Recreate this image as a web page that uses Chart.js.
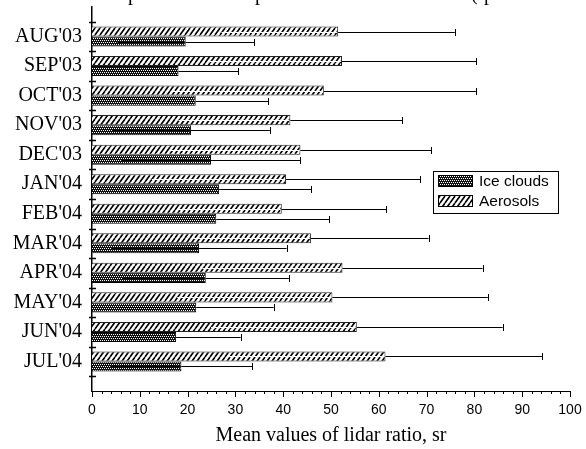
<!DOCTYPE html>
<html>
<head>
<meta charset="utf-8">
<script src="https://cdn.jsdelivr.net/npm/chart.js@4/dist/chart.umd.min.js"></script>
<style>
  html, body { margin: 0; padding: 0; background: #fff; }
  #chart { display: block; }
</style>
</head>
<body>
<canvas id="chart" width="586" height="449"></canvas>
<script>
// monthly mean lidar ratio (sr) and standard deviation
const months = ["AUG'03", "SEP'03", "OCT'03", "NOV'03", "DEC'03", "JAN'04",
                "FEB'04", "MAR'04", "APR'04", "MAY'04", "JUN'04", "JUL'04"];
const aerosolMean = [51.5, 52.3, 48.5, 41.5, 43.6, 40.6, 39.7, 45.8, 52.4, 50.3, 55.4, 61.4];
const aerosolErr  = [24.4, 28.1, 31.8, 23.4, 27.4, 28.1, 21.9, 24.6, 29.3, 32.5, 30.5, 32.7];
const iceMean     = [19.6, 18.1, 21.7, 20.7, 24.9, 26.6, 26.0, 22.4, 23.8, 21.8, 17.6, 18.7];
const iceErr      = [14.3, 12.5, 15.2, 16.5, 18.7, 19.3, 23.6, 18.3, 17.4, 16.2, 13.5, 14.8];
const seriesLabels = ['Ice clouds', 'Aerosols'];
const xTitle = 'Mean values of lidar ratio, sr';

const serif = "'Liberation Serif', 'Times New Roman', serif";
const sans = "'Liberation Sans', Arial, sans-serif";

// diagonal hatch for aerosols
const makeHatch = () => {
  const w = 5, h = 7;
  const c = document.createElement('canvas');
  c.width = w; c.height = h;
  const g = c.getContext('2d');
  g.fillStyle = '#fff';
  g.fillRect(0, 0, w, h);
  g.strokeStyle = '#000';
  g.lineWidth = 1.6;
  g.beginPath();
  for (const dx of [-w, 0, w]) {
    g.moveTo(dx, h);
    g.lineTo(dx + w, 0);
  }
  g.stroke();
  return g.createPattern(c, 'repeat');
};

// dark dotted fill for ice clouds
const makeDots = () => {
  const c = document.createElement('canvas');
  c.width = 4; c.height = 4;
  const g = c.getContext('2d');
  g.fillStyle = '#111';
  g.fillRect(0, 0, 4, 4);
  g.fillStyle = '#fff';
  [[0, 0], [2, 0], [1, 2], [3, 2]].forEach(p => g.fillRect(p[0], p[1], 1, 1));
  return g.createPattern(c, 'repeat');
};

const hatch = makeHatch();
const dots = makeDots();

const errorBars = {
  id: 'errorBars',
  afterDatasetsDraw(chart) {
    const ctx = chart.ctx;
    const xs = chart.scales.x;
    chart.data.datasets.forEach((ds, di) => {
      const meta = chart.getDatasetMeta(di);
      meta.data.forEach((bar, i) => {
        const v = ds.data[i].x;
        const e = ds.errors[i];
        const hi = xs.getPixelForValue(v + e);
        const lo = xs.getPixelForValue(v - e);
        const y = Math.round(bar.y) + 0.5;
        ctx.save();
        // inner half, hidden inside the bar
        ctx.strokeStyle = ds.innerErrColor;
        ctx.lineWidth = 1;
        ctx.beginPath();
        ctx.moveTo(lo, y);
        ctx.lineTo(bar.x - 1, y);
        ctx.stroke();
        ctx.strokeStyle = '#000';
        ctx.beginPath();
        ctx.moveTo(bar.x, y);
        ctx.lineTo(hi, y);
        ctx.moveTo(Math.round(hi) + 0.5, y - 3.5);
        ctx.lineTo(Math.round(hi) + 0.5, y + 3.5);
        ctx.stroke();
        ctx.restore();
      });
    });
  }
};

const decorations = {
  id: 'decorations',
  afterDraw(chart) {
    const ctx = chart.ctx;
    const xs = chart.scales.x;
    const ys = chart.scales.y;
    const area = chart.chartArea;
    ctx.save();
    ctx.strokeStyle = '#000';
    // x axis ticks, major every 10, minor every 2
    ctx.lineWidth = 1;
    ctx.beginPath();
    for (let v = 0; v <= 100; v += 2) {
      const px = Math.round(xs.getPixelForValue(v)) + 0.5;
      ctx.moveTo(px, area.bottom);
      ctx.lineTo(px, area.bottom + (v % 10 === 0 ? 6 : 3));
    }
    ctx.stroke();
    // y axis ticks crossing the axis at the month boundaries
    ctx.lineWidth = 1.3;
    ctx.beginPath();
    for (let b = 0; b <= months.length; b++) {
      const py = Math.round(ys.getPixelForValue(b)) + 0.5;
      ctx.moveTo(area.left - 3, py);
      ctx.lineTo(area.left + 4, py);
    }
    ctx.stroke();

    // legend box
    const lx = 433, ly = 171, lw = 125, lh = 42;
    ctx.fillStyle = '#fff';
    ctx.fillRect(lx, ly, lw, lh);
    ctx.lineWidth = 1;
    ctx.strokeRect(lx + 0.5, ly + 0.5, lw, lh);
    const items = [
      { fill: dots, label: seriesLabels[0] },
      { fill: hatch, label: seriesLabels[1] }
    ];
    ctx.font = '15.5px ' + sans;
    ctx.textBaseline = 'middle';
    items.forEach((it, k) => {
      const sy = ly + 4 + k * 20;
      ctx.fillStyle = it.fill;
      ctx.fillRect(lx + 5, sy, 35, 12);
      ctx.strokeRect(lx + 5.5, sy + 0.5, 34, 11);
      ctx.fillStyle = '#000';
      ctx.fillText(it.label, lx + 46, sy + 6.5);
    });

    // fragments of a heading that is cut off at the top edge
    ctx.font = '20px ' + serif;
    ctx.textBaseline = 'alphabetic';
    ctx.fillStyle = '#000';
    ctx.fillText('p', 128, 0);
    ctx.fillText('p', 255, 0);
    ctx.fillText('(', 471, 0);
    ctx.fillText('p', 484, 0);
    ctx.restore();
  }
};

new Chart(document.getElementById('chart'), {
  type: 'bar',
  data: {
    datasets: [
      {
        label: seriesLabels[1],
        data: aerosolMean.map((v, i) => ({ x: v, y: i + 0.5 })),
        errors: aerosolErr,
        innerErrColor: '#fff',
        backgroundColor: hatch,
        borderColor: '#222',
        borderWidth: 1
      },
      {
        label: seriesLabels[0],
        data: iceMean.map((v, i) => ({ x: v, y: i + 0.5 })),
        errors: iceErr,
        innerErrColor: '#000',
        backgroundColor: dots,
        borderColor: '#000',
        borderWidth: 1
      }
    ]
  },
  options: {
    indexAxis: 'y',
    responsive: false,
    animation: false,
    devicePixelRatio: 1,
    events: [],
    categoryPercentage: 0.68,
    barPercentage: 1,
    layout: { padding: { top: 7, right: 16, bottom: 0, left: 0 } },
    plugins: {
      legend: { display: false },
      tooltip: { enabled: false }
    },
    scales: {
      x: {
        type: 'linear',
        position: 'bottom',
        min: 0,
        max: 100,
        afterFit: scale => {
          scale.height = 58;
          scale.paddingLeft = 0;
          scale.paddingRight = 0;
        },
        grid: { display: false, drawTicks: false },
        border: { display: true, color: '#000', width: 1 },
        ticks: {
          stepSize: 10,
          autoSkip: false,
          maxRotation: 0,
          padding: 11,
          color: '#000',
          font: { family: sans, size: 14 }
        },
        title: {
          display: true,
          text: xTitle,
          color: '#000',
          font: { family: serif, size: 20 },
          padding: { top: 0, bottom: 1 }
        }
      },
      y: {
        type: 'linear',
        reverse: true,
        offset: false,
        min: -0.5,
        max: 12.5,
        afterFit: scale => {
          scale.width = 92;
          scale.paddingTop = 0;
          scale.paddingBottom = 0;
        },
        afterBuildTicks: scale => {
          scale.ticks = months.map((m, i) => ({ value: i + 0.5 }));
        },
        grid: { display: false, drawTicks: false, offset: false },
        border: { display: true, color: '#000', width: 1.5 },
        ticks: {
          autoSkip: false,
          padding: 10,
          color: '#000',
          font: { family: serif, size: 20 },
          callback: (value, index) => months[index]
        }
      }
    }
  },
  plugins: [errorBars, decorations]
});
</script>
</body>
</html>
